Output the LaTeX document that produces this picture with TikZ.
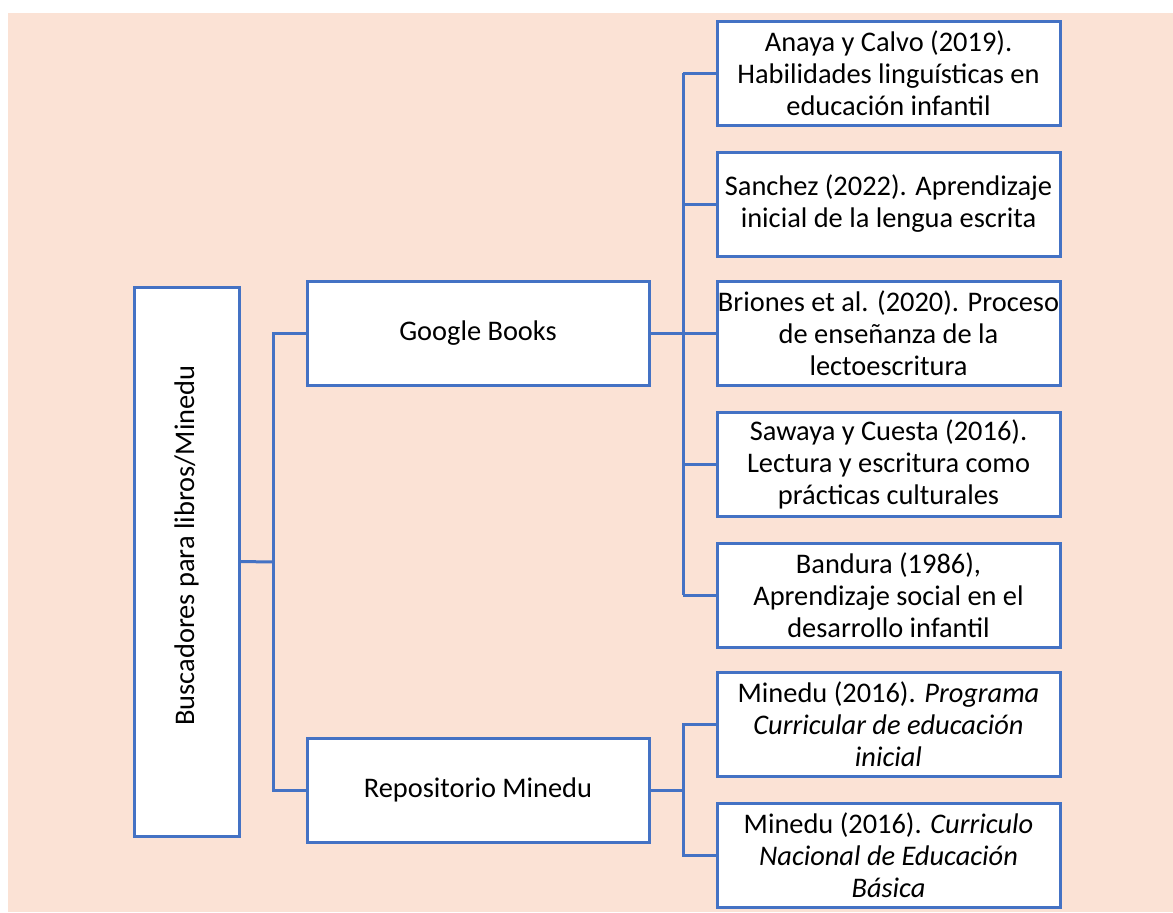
\documentclass[tikz,border=0pt]{standalone}
\usepackage{fontspec}
\setmainfont{Carlito}
\definecolor{peach}{HTML}{FBE2D5}
\definecolor{boxblue}{HTML}{4472C4}
\tikzset{
  card/.style={draw=boxblue,line width=1.5pt,fill=white,align=center,inner sep=0pt,
    font=\fontsize{14.2}{16}\selectfont},
  ref/.style={card,minimum width=171.5pt,minimum height=52pt},
  mid/.style={card,minimum width=171pt,minimum height=52pt},
  conn/.style={draw=boxblue,line width=1.5pt}
}
\begin{document}
\begin{tikzpicture}[x=0.5pt,y=-0.5pt]
    % Canvas
    \useasboundingbox (0,0) rectangle (1173,912);
    \fill[peach] (8,13) rectangle (1173,912);

    % Root (vertical text)
    \node[card,rotate=90,minimum width=274.5pt,minimum height=52.5pt] (root) at (186.5,561.5)
      {\hspace*{16pt}Buscadores para libros/Minedu};

    % Second level
    \node[mid] (gb) at (478,333.5) {Google Books};
    \node[mid] (rm) at (478,790) {Repositorio Minedu};

    % Sources found in Google Books
    \node[ref] (b1) at (888.5,73)  {Anaya y Calvo (2019).\\Habilidades linguísticas en\\educación infantil};
    \node[ref] (b2) at (888.5,204) {Sanchez (2022). Aprendizaje\\inicial de la lengua escrita};
    \node[ref] (b3) at (888.5,333.5) {Briones et al. (2020). Proceso\\de enseñanza de la\\lectoescritura};
    \node[ref] (b4) at (888.5,464) {Sawaya y Cuesta (2016).\\Lectura y escritura como\\prácticas culturales};
    \node[ref] (b5) at (888.5,595) {Bandura (1986),\\Aprendizaje social en el\\desarrollo infantil};

    % Sources found in the Minedu repository
    \node[ref] (b6) at (888.5,724) {Minedu (2016). \textit{Programa}\\\textit{Curricular de educación}\\\textit{inicial}};
    \node[ref] (b7) at (888.5,855) {Minedu (2016). \textit{Curriculo}\\\textit{Nacional de Educación}\\\textit{Básica}};

    % Branch points
    \coordinate (tr)  at (273,562);
    \coordinate (gbs) at (683,333.5);
    \coordinate (rms) at (683,790);

    % Connectors from the root
    \draw[conn] (root.south) -- (tr);
    \draw[conn] (gb.west) -| (tr) |- (rm.west);

    % Connectors to Google Books sources
    \draw[conn] (gb.east) -- (b3.west);
    \draw[conn] (gbs |- b1.west) -- (gbs |- b5.west);
    \foreach \i in {1,2,4,5}
      \draw[conn] (b\i.west) -- (b\i.west -| gbs);

    % Connectors to Minedu sources
    \draw[conn] (rm.east) -- (rms);
    \draw[conn] (b6.west) -| (rms) |- (b7.west);
\end{tikzpicture}
\end{document}
